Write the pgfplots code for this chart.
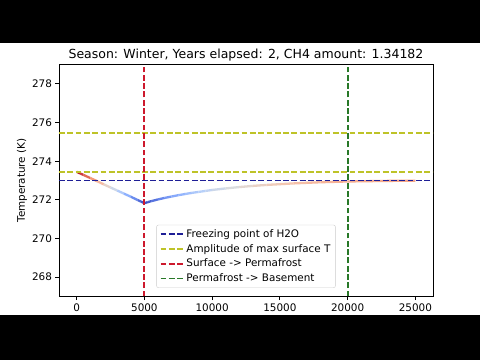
\documentclass[border=0pt]{standalone}
\usepackage{fontspec}
\setmainfont{DejaVu Sans}
\usepackage{pgfplots}
\pgfplotsset{compat=1.18}
\definecolor{fzblue}{RGB}{30,30,150}
\definecolor{ampyel}{RGB}{190,195,40}
\definecolor{surfred}{RGB}{205,25,45}
\definecolor{basegreen}{RGB}{40,120,40}
\pgfplotsset{colormap={coolwarm}{rgb255(0cm)=(59,76,192); rgb255(1cm)=(98,130,234); rgb255(2cm)=(141,176,254); rgb255(3cm)=(184,208,249); rgb255(4cm)=(221,221,221); rgb255(5cm)=(245,196,173); rgb255(6cm)=(244,154,123); rgb255(7cm)=(222,96,77); rgb255(8cm)=(180,4,38)}}
\begin{document}
\begin{tikzpicture}
\fill[black] (0bp,0bp) rectangle (480bp,360bp);
\fill[white] (0bp,45bp) rectangle (480bp,317bp);
\begin{axis}[
  at={(59bp,63.5bp)}, anchor=south west,
  scale only axis, width=374bp, height=232bp,
  xmin=-1300, xmax=26300, ymin=267, ymax=279,
  xtick={0,5000,10000,15000,20000,25000},
  ytick={268,270,272,274,276,278},
  scaled x ticks=false,
  xticklabel style={/pgf/number format/1000 sep={}},
  /pgf/number format/assume math mode=true,
  tick label style={font=\fontsize{10.4bp}{12.5bp}\selectfont},
  tick align=outside, major tick length=3.6bp,
  xtick pos=bottom, ytick pos=left,
  tick style={black, line width=0.8bp},
  axis line style={black, line width=0.8bp},
  title={Season: Winter, Years elapsed: 2, CH4 amount: 1.34182},
  title style={font=\fontsize{12.5bp}{15bp}\selectfont, at={(axis description cs:0.5,1)}, anchor=base, yshift=0.5bp},
  ylabel={Temperature (K)},
  ylabel style={font=\fontsize{10.4bp}{12.5bp}\selectfont, at={(axis description cs:-0.099,0.5)}, anchor=center},
  legend style={at={(axis description cs:0.5,0.037)}, anchor=south, font=\fontsize{10.4bp}{12.5bp}\selectfont, draw=black!20, rounded corners=2bp, fill=white, fill opacity=0.8, text opacity=1, inner xsep=3bp, inner ysep=2.5bp, row sep=1.4bp},
  legend cell align=left,
  legend image code/.code={\draw[#1] (0bp,0bp) -- (23bp,0bp);},
  colormap name=coolwarm,
  point meta min=271.83, point meta max=273.45,
]
\addplot[mesh, point meta=y, line width=2.3bp, forget plot] coordinates {
(0,273.45) (250,273.37) (500,273.29) (1000,273.13) (1500,272.97) (2000,272.80) (2500,272.64) (3000,272.48) (3500,272.32) (4000,272.16) (4500,271.99) (4750,271.91) (5000,271.83)
(5250,271.88) (5500,271.93) (6000,272.02) (6500,272.10) (7000,272.17) (7500,272.24) (8000,272.30) (8500,272.36) (9000,272.41) (9500,272.46) (10000,272.51)
(11000,272.59) (12000,272.66) (13000,272.72) (14000,272.77) (15000,272.81) (16000,272.85) (17000,272.88) (18000,272.91) (19000,272.93) (20000,272.95)
(21000,272.96) (22000,272.97) (23000,272.98) (24000,272.985) (25000,272.99)
};
\addplot[fzblue, line width=1.9bp, dash pattern=on 5.8bp off 2.5bp] coordinates {(-1300,273.0) (26300,273.0)};
\addlegendentry{Freezing point of H2O}
\addplot[ampyel, line width=1.9bp, dash pattern=on 5.8bp off 2.5bp] coordinates {(-1300,273.45) (26300,273.45)};
\addlegendentry{Amplitude of max surface T}
\addplot[ampyel, line width=1.9bp, dash pattern=on 5.8bp off 2.5bp, forget plot] coordinates {(-1300,275.45) (26300,275.45)};
\addplot[surfred, line width=1.9bp, dash pattern=on 5.8bp off 2.5bp] coordinates {(5000,267) (5000,279)};
\addlegendentry{Surface -> Permafrost}
\addplot[basegreen, line width=1.9bp, dash pattern=on 5.8bp off 2.5bp] coordinates {(20000,267) (20000,279)};
\addlegendentry{Permafrost -> Basement}
\end{axis}
\end{tikzpicture}
\end{document}
